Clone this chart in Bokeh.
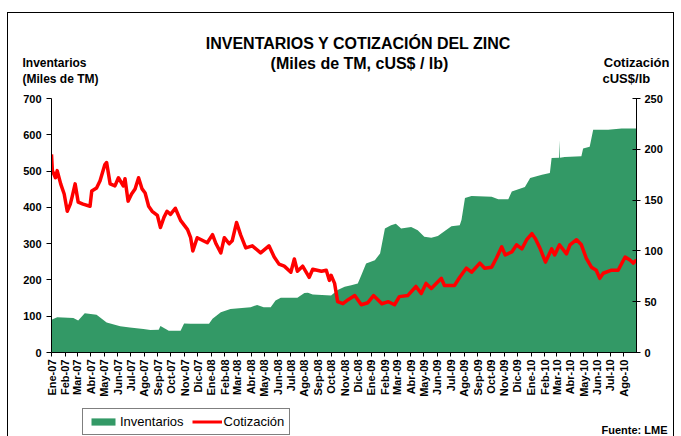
from math import pi
import pandas as pd
from bokeh.plotting import figure
from bokeh.layouts import column
from bokeh.models import (Range1d, LinearAxis, FixedTicker, CustomJSTickFormatter,
                          Label, Legend, LegendItem, ColumnDataSource)
from bokeh.embed import file_html
from bokeh.resources import INLINE

# ---------------- data ----------------
meses = ["Ene", "Feb", "Mar", "Abr", "May", "Jun", "Jul", "Ago", "Sep", "Oct", "Nov", "Dic"]

fecha_inv = [
    "2007-01-01", "2007-01-14", "2007-02-20", "2007-03-03", "2007-03-18", "2007-04-14",
    "2007-05-07", "2007-06-07", "2007-06-29", "2007-07-30", "2007-08-15", "2007-09-03",
    "2007-09-07", "2007-09-26", "2007-10-23", "2007-10-31", "2007-11-15", "2007-12-27",
    "2008-01-04", "2008-01-23", "2008-02-14", "2008-03-31", "2008-04-15", "2008-04-30",
    "2008-05-16", "2008-05-27", "2008-06-08", "2008-07-16", "2008-08-01", "2008-08-09",
    "2008-08-20", "2008-10-01", "2008-10-16", "2008-11-01", "2008-11-16", "2008-12-01",
    "2008-12-09", "2008-12-20", "2009-01-09", "2009-01-21", "2009-02-01", "2009-02-15",
    "2009-02-26", "2009-03-10", "2009-04-02", "2009-04-17", "2009-05-02", "2009-05-18",
    "2009-06-02", "2009-06-17", "2009-07-03", "2009-07-22", "2009-07-26", "2009-08-03",
    "2009-08-18", "2009-10-03", "2009-10-18", "2009-11-10", "2009-11-18", "2009-12-18",
    "2009-12-30", "2010-01-26", "2010-02-13", "2010-02-17", "2010-03-06", "2010-03-07",
    "2010-03-08", "2010-03-19", "2010-04-26", "2010-04-30", "2010-05-15", "2010-05-23",
    "2010-06-26", "2010-07-27", "2010-08-30",
]
inventarios = [
    90, 97, 95, 88, 108, 104,
    83, 72, 69, 65, 62, 63,
    73, 60, 60, 80, 79, 79,
    93, 111, 120, 125, 131, 125,
    125, 143, 151, 151, 164, 165,
    160, 157, 172, 181, 185, 190,
    213, 245, 254, 273, 342, 351,
    355, 342, 346, 337, 319, 316,
    321, 334, 348, 351, 365, 426,
    431, 429, 422, 422, 444, 456,
    481, 490, 495, 536, 537, 585,
    537, 539, 541, 562, 567, 614,
    614, 617, 617,
]

fecha_cot = [
    "2007-01-01", "2007-01-03", "2007-01-10", "2007-01-14", "2007-01-22", "2007-01-30",
    "2007-02-06", "2007-02-13", "2007-02-17", "2007-02-24", "2007-03-03", "2007-03-14",
    "2007-03-30", "2007-04-03", "2007-04-14", "2007-04-22", "2007-05-03", "2007-05-07",
    "2007-05-15", "2007-05-26", "2007-06-03", "2007-06-14", "2007-06-18", "2007-06-25",
    "2007-07-03", "2007-07-11", "2007-07-19", "2007-07-27", "2007-08-03", "2007-08-11",
    "2007-08-19", "2007-08-31", "2007-09-07", "2007-09-15", "2007-09-22", "2007-09-30",
    "2007-10-11", "2007-10-23", "2007-11-08", "2007-11-15", "2007-11-20", "2007-11-30",
    "2007-12-23", "2008-01-04", "2008-01-12", "2008-01-23", "2008-01-31", "2008-02-11",
    "2008-02-18", "2008-02-28", "2008-03-08", "2008-03-20", "2008-04-04", "2008-04-23",
    "2008-05-12", "2008-05-24", "2008-06-04", "2008-06-16", "2008-07-01", "2008-07-09",
    "2008-07-16", "2008-07-28", "2008-08-12", "2008-08-20", "2008-09-09", "2008-09-20",
    "2008-09-27", "2008-10-01", "2008-10-09", "2008-10-16", "2008-10-28", "2008-11-09",
    "2008-11-24", "2008-12-09", "2008-12-24", "2009-01-06", "2009-01-25", "2009-02-09",
    "2009-02-23", "2009-03-06", "2009-03-25", "2009-04-13", "2009-04-25", "2009-05-06",
    "2009-05-18", "2009-06-10", "2009-06-17", "2009-07-10", "2009-07-22", "2009-08-06",
    "2009-08-18", "2009-09-06", "2009-09-17", "2009-10-03", "2009-10-14", "2009-10-26",
    "2009-11-03", "2009-11-18", "2009-11-29", "2009-12-11", "2009-12-22", "2010-01-03",
    "2010-01-11", "2010-01-22", "2010-02-03", "2010-02-17", "2010-02-24", "2010-03-07",
    "2010-03-23", "2010-03-31", "2010-04-15", "2010-04-26", "2010-05-07", "2010-05-19",
    "2010-05-30", "2010-06-07", "2010-06-15", "2010-07-04", "2010-07-19", "2010-08-04",
    "2010-08-15", "2010-08-23", "2010-08-30",
]
cotizacion = [
    195, 179, 172, 179, 166, 156,
    139, 146, 153, 166, 148, 146,
    144, 159, 162, 169, 185, 187,
    166, 164, 172, 164, 171, 149,
    156, 161, 172, 161, 157, 144,
    139, 135, 123, 133, 139, 136,
    142, 130, 121, 113, 100, 113,
    108, 116, 107, 98, 113, 107,
    110, 128, 116, 103, 105, 98,
    105, 94, 87, 85, 79, 92,
    80, 85, 74, 82, 80, 81,
    71, 76, 68, 50, 48, 52,
    56, 47, 49, 56, 48, 50,
    47, 55, 56, 65, 58, 68,
    63, 73, 66, 66, 74, 83,
    79, 88, 83, 84, 93, 104,
    96, 99, 106, 102, 111, 117,
    112, 102, 89, 102, 96, 106,
    97, 106, 111, 106, 93, 84,
    81, 73, 78, 81, 81, 94,
    91, 88, 91,
]

ticks_inv = [0, 100, 200, 300, 400, 500, 600, 700]
ticks_cot = [0, 50, 100, 150, 200, 250]

# ---------------- styling constants ----------------
FONT = "Liberation Sans"
GREEN = "#339966"
RED = "#FF0000"
W = 665


def no_align(f):
    try:
        f.frame_align = False
    except AttributeError:
        pass


def bare_figure(h, yr):
    f = figure(width=W, height=h, x_range=Range1d(0, W), y_range=yr,
               x_axis_type=None, y_axis_type=None, output_backend="svg",
               toolbar_location=None, min_border=0)
    f.outline_line_color = None
    f.xgrid.visible = False
    f.ygrid.visible = False
    no_align(f)
    return f


def add_text(f, x, y, text, size, align="left", style="bold"):
    f.add_layout(Label(x=x, y=y, text=text, text_font=FONT, text_font_size=size,
                       text_font_style=style, text_align=align,
                       text_baseline="middle", text_color="black"))


src_inv = ColumnDataSource(dict(x=pd.to_datetime(fecha_inv), y=inventarios))
src_cot = ColumnDataSource(dict(x=pd.to_datetime(fecha_cot), y=cotizacion))

# ---------------- header (titles) ----------------
HH = 77
header = bare_figure(HH, Range1d(HH, 0))
add_text(header, 350, 30, "INVENTARIOS Y COTIZACIÓN DEL ZINC", "16px", "center")
add_text(header, 351, 50, "(Miles de TM, cUS$ / lb)", "16px", "center")
add_text(header, 14, 49, "Inventarios", "12px")
add_text(header, 14, 65, "(Miles de TM)", "12px")
add_text(header, 661, 49, "Cotización", "13px", "right")
add_text(header, 594, 65, "cUS$/lb", "13px")

# ---------------- main chart ----------------
p = figure(width=W, height=314, x_axis_type="datetime",
           x_range=Range1d(pd.Timestamp("2007-01-01"), pd.Timestamp("2010-08-30")),
           y_range=Range1d(0, 700),
           output_backend="svg", toolbar_location=None,
           min_border_left=43, min_border_right=37, min_border_top=8, min_border_bottom=52)
no_align(p)
p.extra_y_ranges = {"precio": Range1d(0, 250)}
p.outline_line_color = None
p.xgrid.visible = False
p.ygrid.visible = False

p.varea(x="x", y1=0, y2="y", source=src_inv, fill_color=GREEN)
p.line(x="x", y="y", source=src_cot, y_range_name="precio",
       line_color=RED, line_width=3.5, line_join="round")


def style_axis(ax, size="11px"):
    ax.axis_line_color = "black"
    ax.major_tick_line_color = "black"
    ax.minor_tick_line_color = None
    ax.major_label_text_font = FONT
    ax.major_label_text_font_style = "bold"
    ax.major_label_text_font_size = size
    ax.major_label_text_color = "black"


ax_l = p.yaxis[0]
ax_l.ticker = FixedTicker(ticks=ticks_inv)
style_axis(ax_l)
ax_l.major_tick_out = 5
ax_l.major_tick_in = 0

ax_r = LinearAxis(y_range_name="precio", ticker=FixedTicker(ticks=ticks_cot))
style_axis(ax_r)
ax_r.major_tick_out = 4
ax_r.major_tick_in = 4
ax_r.major_label_standoff = 4
p.add_layout(ax_r, "right")

ax_b = p.xaxis[0]
month_ticks = pd.date_range("2007-01-01", "2010-08-01", freq="MS")
ax_b.ticker = FixedTicker(ticks=[t.timestamp() * 1000 for t in month_ticks])
ax_b.formatter = CustomJSTickFormatter(args=dict(meses=meses), code="""
    const d = new Date(tick);
    return meses[d.getUTCMonth()] + "-" + String(d.getUTCFullYear()).slice(2);
""")
style_axis(ax_b, "11px")
ax_b.major_label_orientation = pi / 2
ax_b.major_tick_out = 4
ax_b.major_tick_in = 0
ax_b.major_label_standoff = 3

# ---------------- footer (legend + source) ----------------
FH = 32
footer = bare_figure(FH, Range1d(FH, 0))
# legend keys reuse the chart's sources; their datetime x values lie outside this
# panel's pixel range, so only the legend swatches are visible here
k_inv = footer.varea(x="x", y1=0, y2="y", source=src_inv, fill_color=GREEN)
k_cot = footer.line(x="x", y="y", source=src_cot, line_color=RED, line_width=3)
legend = Legend(items=[LegendItem(label="Inventarios", renderers=[k_inv]),
                       LegendItem(label="Cotización", renderers=[k_cot])],
                location=(74, 1), orientation="horizontal",
                border_line_color="black", border_line_width=1,
                background_fill_color="white", background_fill_alpha=1,
                padding=5, spacing=8, margin=0, label_standoff=2,
                glyph_width=30, glyph_height=9, label_height=15,
                label_text_font=FONT, label_text_font_size="13px",
                label_text_color="black")
footer.add_layout(legend)
add_text(footer, 659, 25, "Fuente: LME", "11px", "right")

layout = column(header, p, footer, spacing=0,
                styles={"margin-left": "7px", "margin-top": "12px",
                        "border-top": "1px solid black",
                        "border-left": "1px solid black",
                        "border-right": "1px solid black"})

open("out.html", "w").write(file_html(layout, INLINE))
